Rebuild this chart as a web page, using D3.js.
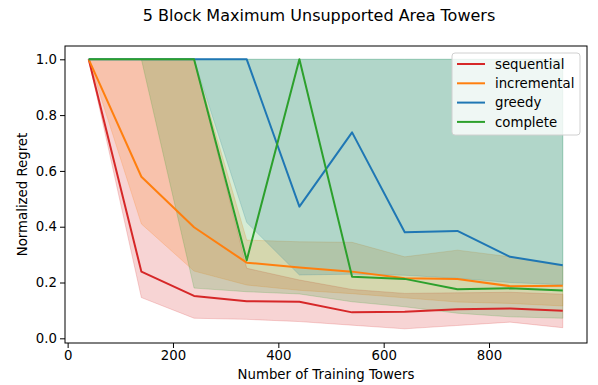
<!DOCTYPE html>
<html lang="en">
<head>
<meta charset="UTF-8">
<title>5 Block Maximum Unsupported Area Towers</title>
<script src="https://d3js.org/d3.v7.min.js"></script>
<style>
    body { margin: 0; background: white; }
    text { font-family: "DejaVu Sans", sans-serif; fill: #000; }
</style>
</head>
<body>
<div id="chart"></div>
<script>
    const width = 598;
    const height = 385;

    // data
    const towers = [40, 140, 240, 340, 440, 540, 640, 740, 840, 940];
    const methods = ["sequential", "incremental", "greedy", "complete"];
    const colors = ["#d62728", "#ff7f0e", "#1f77b4", "#2ca02c"];

    const seqMean  = [1.0, 0.239, 0.152, 0.133, 0.131, 0.093, 0.095, 0.104, 0.107, 0.099];
    const seqLow   = [1.0, 0.146, 0.072, 0.068, 0.060, 0.047, 0.034, 0.046, 0.058, 0.038];
    const seqHigh  = [1.0, 1.0, 1.0, 0.251, 0.209, 0.175, 0.161, 0.163, 0.165, 0.158];

    const incMean  = [1.0, 0.579, 0.398, 0.271, 0.254, 0.239, 0.215, 0.213, 0.187, 0.188];
    const incLow   = [1.0, 0.410, 0.241, 0.191, 0.172, 0.160, 0.145, 0.130, 0.125, 0.116];
    const incHigh  = [1.0, 1.0, 1.0, 0.352, 0.346, 0.344, 0.292, 0.316, 0.292, 0.259];

    const grdMean  = [1.0, 1.0, 1.0, 1.0, 0.472, 0.738, 0.380, 0.385, 0.292, 0.262];
    const grdLow   = [1.0, 1.0, 1.0, 0.415, 0.227, 0.230, 0.226, 0.215, 0.200, 0.192];
    const grdHigh  = [1.0, 1.0, 1.0, 1.0, 1.0, 1.0, 1.0, 1.0, 1.0, 1.0];

    const cmpMean  = [1.0, 1.0, 1.0, 0.280, 1.0, 0.221, 0.213, 0.176, 0.179, 0.171];
    const cmpLow   = [1.0, 1.0, 0.180, 0.167, 0.159, 0.131, 0.113, 0.090, 0.077, 0.072];
    const cmpHigh  = [1.0, 1.0, 1.0, 1.0, 1.0, 1.0, 1.0, 1.0, 1.0, 1.0];

    const xTicks = [0, 200, 400, 600, 800];
    const yTicks = [0.0, 0.2, 0.4, 0.6, 0.8, 1.0];

    const series = [
        { mean: seqMean, low: seqLow, high: seqHigh },
        { mean: incMean, low: incLow, high: incHigh },
        { mean: grdMean, low: grdLow, high: grdHigh },
        { mean: cmpMean, low: cmpLow, high: cmpHigh }
    ];

    const plot = { left: 65, right: 587, top: 46, bottom: 343 };

    const x = d3.scaleLinear().domain([-5, 986]).range([plot.left, plot.right]);
    const y = d3.scaleLinear().domain([-0.0168, 1.0477]).range([plot.bottom, plot.top]);

    const svg = d3.select("#chart")
        .append("svg")
        .attr("width", width)
        .attr("height", height);

    const area = d3.area()
        .x((d, i) => x(towers[i]))
        .y0(d => y(d[0]))
        .y1(d => y(d[1]));

    const line = d3.line()
        .x((d, i) => x(towers[i]))
        .y(d => y(d));

    // bands
    series.forEach((s, k) => {
        svg.append("path")
            .datum(s.low.map((v, i) => [v, s.high[i]]))
            .attr("d", area)
            .attr("fill", colors[k])
            .attr("fill-opacity", 0.2)
            .attr("stroke", colors[k])
            .attr("stroke-opacity", 0.2)
            .attr("stroke-width", 1);
    });

    // mean lines
    series.forEach((s, k) => {
        svg.append("path")
            .datum(s.mean)
            .attr("d", line)
            .attr("fill", "none")
            .attr("stroke", colors[k])
            .attr("stroke-width", 2)
            .attr("stroke-linejoin", "round");
    });

    // axes
    const xAxis = svg.append("g")
        .attr("transform", `translate(0,${plot.bottom})`)
        .call(d3.axisBottom(x).tickValues(xTicks).tickSize(5).tickPadding(3).tickFormat(d3.format("d")));
    const yAxis = svg.append("g")
        .attr("transform", `translate(${plot.left},0)`)
        .call(d3.axisLeft(y).tickValues(yTicks).tickSize(5).tickPadding(3).tickFormat(d3.format(".1f")));

    [xAxis, yAxis].forEach(g => {
        g.select(".domain").remove();
        g.selectAll("line").attr("stroke", "#000").attr("stroke-width", 1);
        g.selectAll("text").style("font-size", "13.3px").style("font-family", "DejaVu Sans, sans-serif");
    });

    // frame
    svg.append("rect")
        .attr("x", plot.left)
        .attr("y", plot.top)
        .attr("width", plot.right - plot.left)
        .attr("height", plot.bottom - plot.top)
        .attr("fill", "none")
        .attr("stroke", "#000")
        .attr("stroke-width", 1);

    // labels
    svg.append("text")
        .attr("x", 319)
        .attr("y", 21)
        .attr("text-anchor", "middle")
        .style("font-size", "16px")
        .text("5 Block Maximum Unsupported Area Towers");

    svg.append("text")
        .attr("x", (plot.left + plot.right) / 2)
        .attr("y", 379)
        .attr("text-anchor", "middle")
        .style("font-size", "13.3px")
        .text("Number of Training Towers");

    svg.append("text")
        .attr("transform", `translate(27,${(plot.top + plot.bottom) / 2}) rotate(-90)`)
        .attr("text-anchor", "middle")
        .style("font-size", "13.3px")
        .text("Normalized Regret");

    // legend
    const legend = svg.append("g").attr("transform", "translate(452,53)");
    legend.append("rect")
        .attr("width", 128)
        .attr("height", 82)
        .attr("rx", 3)
        .attr("fill", "white")
        .attr("fill-opacity", 0.8)
        .attr("stroke", "#d0d0d0")
        .attr("stroke-width", 1);

    methods.forEach((m, k) => {
        const row = legend.append("g").attr("transform", `translate(0,${11 + k * 19.3})`);
        row.append("line")
            .attr("x1", 5).attr("x2", 33)
            .attr("stroke", colors[k])
            .attr("stroke-width", 2);
        row.append("text")
            .attr("x", 43)
            .attr("y", 4.7)
            .style("font-size", "13.3px")
            .text(m);
    });
</script>
</body>
</html>
